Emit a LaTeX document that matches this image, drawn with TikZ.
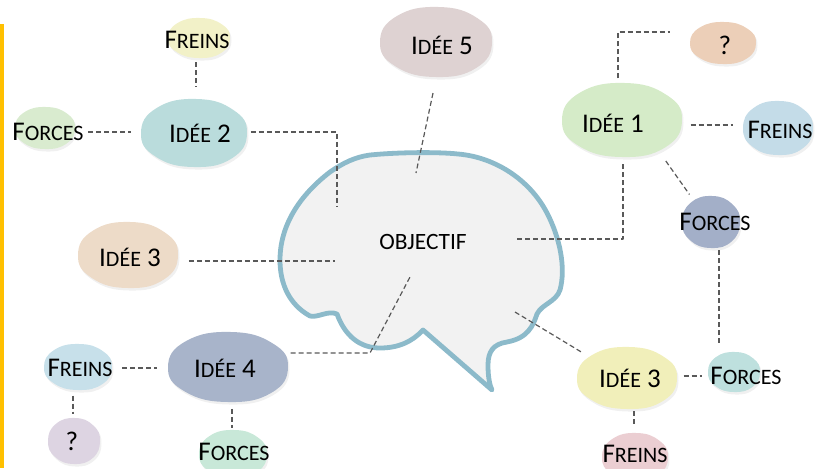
\documentclass[tikz,border=0pt]{standalone}
\usepackage{fontspec}
\setmainfont{Carlito}
\usetikzlibrary{calc}
\definecolor{barc}{HTML}{FFC000}
\definecolor{bubline}{HTML}{8CBACA}
\definecolor{bubfill}{HTML}{F2F2F2}
\newcommand\capsc[2]{{\fontsize{13.5}{15}\selectfont #1}{\fontsize{11}{13}\selectfont #2}}
\newcommand\cloudblob[5]{%
  \definecolor{blobtmp}{HTML}{#5}%
  \fill[black,opacity=.06,shift={(1.5,2.5)}] plot[smooth cycle,tension=.8] coordinates {
    ({#1+#3},{#2}) ({#1+.72*#3},{#2+.74*#4}) ({#1},{#2+#4}) ({#1-.72*#3},{#2+.7*#4})
    ({#1-#3},{#2}) ({#1-.7*#3},{#2-.74*#4}) ({#1+.05*#3},{#2-#4}) ({#1+.74*#3},{#2-.68*#4})};
  \fill[blobtmp] plot[smooth cycle,tension=.8] coordinates {
    ({#1+#3},{#2}) ({#1+.72*#3},{#2+.74*#4}) ({#1},{#2+#4}) ({#1-.72*#3},{#2+.7*#4})
    ({#1-#3},{#2}) ({#1-.7*#3},{#2-.74*#4}) ({#1+.05*#3},{#2-#4}) ({#1+.74*#3},{#2-.68*#4})};}
\begin{document}
\begin{tikzpicture}[x=0.5pt,y=-0.5pt,line join=round,line cap=round,
    lbl/.style={inner sep=0pt,font=\fontsize{13.5}{15}\selectfont},
    link/.style={draw=black!65,line width=0.6pt,dash pattern=on 2.5pt off 1.5pt,line cap=butt},
    bubble/.style={draw=bubline,fill=bubfill,line width=2.4pt}]
    \useasboundingbox (0,0) rectangle (827,468);
    \fill[barc] (0,24) rectangle (4.5,468);
    % blobs
    \cloudblob{199}{38}{31}{20}{F2F1C8}
    \cloudblob{194}{133}{53}{34}{BADCDC}
    \cloudblob{45}{128}{30}{21}{D9EBCF}
    \cloudblob{436}{42}{56}{35}{DED2D2}
    \cloudblob{128}{255}{50}{33}{EDDBC8}
    \cloudblob{228}{367}{60}{35}{A8B4CA}
    \cloudblob{78}{367}{34}{23}{C7E0EA}
    \cloudblob{74}{441}{26}{23}{DDD4E2}
    \cloudblob{233}{454}{34}{24}{C8E8D8}
    \cloudblob{723}{43}{33}{21}{ECCFB8}
    \cloudblob{622}{120}{60}{37}{D5EBC8}
    \cloudblob{778}{128}{35}{27}{C4DCE8}
    \cloudblob{711}{222}{29}{26}{A3AFC8}
    \cloudblob{734}{372}{26}{20}{BEE0DE}
    \cloudblob{627}{378}{50}{31}{F1EFBA}
    \cloudblob{635}{457}{33}{24}{EBCED2}
    % speech bubble
    \draw[bubble] (370,155) .. controls (400,152) and (440,152) .. (458,154)
        .. controls (495,157) and (530,180) .. (547,213)
        .. controls (560,238) and (566,268) .. (560,290)
        .. controls (556,302) and (542,304) .. (537,314)
        .. controls (533,326) and (528,338) .. (507,342)
        .. controls (493,344) and (488,352) .. (488,365)
        .. controls (488,378) and (490,386) .. (492,390)
        -- (423,330)
        .. controls (412,342) and (398,348) .. (380,348)
        .. controls (360,348) and (345,336) .. (337,314)
        .. controls (328,310) and (318,318) .. (310,316)
        .. controls (290,305) and (280,285) .. (280,260)
        .. controls (280,225) and (300,195) .. (330,172)
        .. controls (343,163) and (355,157) .. (370,155) -- cycle;
    % labels
    \node[lbl] (freinsTL) at (197,40) {\capsc{F}{REINS}};
    \node[lbl] (idee2) at (200,133) {\capsc{I}{DÉE} 2};
    \node[lbl] (forcesL) at (48,132) {\capsc{F}{ORCES}};
    \node[lbl] (idee5) at (442,45) {\capsc{I}{DÉE} 5};
    \node[lbl] (idee3L) at (130,257) {\capsc{I}{DÉE} 3};
    \node[lbl] (idee4) at (225,368) {\capsc{I}{DÉE} 4};
    \node[lbl] (freinsL) at (80,368) {\capsc{F}{REINS}};
    \node[lbl] (qL) at (72,441) {?};
    \node[lbl] (forcesB) at (234,452) {\capsc{F}{ORCES}};
    \node[lbl] (qR) at (725,45) {?};
    \node[lbl] (idee1) at (613,123) {\capsc{I}{DÉE} 1};
    \node[lbl] (freinsR) at (780,130) {\capsc{F}{REINS}};
    \node[lbl] (forcesR) at (715,222) {\capsc{F}{ORCES}};
    \node[lbl] (forcesR2) at (746,376) {\capsc{F}{ORCES}};
    \node[lbl] (idee3R) at (630,378) {\capsc{I}{DÉE} 3};
    \node[lbl] (freinsBR) at (635,454) {\capsc{F}{REINS}};
    \node[inner sep=0pt,font=\fontsize{11.7}{13}\selectfont] (obj) at (423,242) {OBJECTIF};
    % free ends inside the bubble
    \coordinate (c1) at (517,239);
    \coordinate (c2) at (337,207);
    \coordinate (c3) at (335,261);
    \coordinate (c4) at (410,277);
    \coordinate (k4) at (370,353);
    \coordinate (c5) at (416,173);
    \coordinate (c6) at (515,312);
    % links
    \draw[link] ([xshift=-.5pt,yshift=-6.6pt]freinsTL.south) -- ([xshift=-2pt,yshift=18.2pt]idee2.north);
    \draw[link] ([xshift=2.2pt]forcesL.east) -- ([xshift=-18.8pt,yshift=.5pt]idee2.west);
    \draw[link] ([xshift=9.8pt,yshift=.5pt]idee2.east) -| (c2);
    \draw[link] ([xshift=-4.5pt,yshift=-19.2pt]idee5.south) -- (c5);
    \draw[link] ([xshift=13.8pt,yshift=-2pt]idee3L.east) -- (c3);
    \draw[link] ([xshift=17.2pt,yshift=7.5pt]idee4.east) -- (k4) -- (c4);
    \draw[link] ([xshift=4.8pt]freinsL.east) -- ([xshift=-18.2pt]idee4.west);
    \draw[link] ([xshift=-3.5pt,yshift=-9.2pt]freinsL.south) -- ([xshift=.5pt,yshift=8.6pt]qL.north);
    \draw[link] ([xshift=3.5pt,yshift=-15.6pt]idee4.south) -- ([xshift=-1pt,yshift=7.6pt]forcesB.north);
    \draw[link] ([xshift=2.5pt,yshift=17.5pt]idee1.north) |- ([xshift=-24.4pt,yshift=6.5pt]qR.west);
    \draw[link] ([xshift=23.2pt,yshift=-1pt]idee1.east) -- ([xshift=-7.2pt,yshift=2.5pt]freinsR.west);
    \draw[link] ([xshift=10.8pt,yshift=-14.2pt]idee1.south east) -- ([xshift=5.2pt,yshift=9.2pt]forcesR.north west);
    \draw[link] (c1) -| ([xshift=5pt,yshift=-15.6pt]idee1.south);
    \draw[link] ([xshift=2pt,yshift=-9.6pt]forcesR.south) -- ([xshift=-13.5pt,yshift=11.2pt]forcesR2.north);
    \draw[link] ([xshift=11.2pt,yshift=1pt]idee3R.east) -- ([xshift=-3.8pt]forcesR2.west);
    \draw[link] (c6) -- ([xshift=-8.8pt,yshift=8.2pt]idee3R.north west);
    \draw[link] ([xshift=2pt,yshift=-11.7pt]idee3R.south) -- ([xshift=-.5pt,yshift=9.1pt]freinsBR.north);
\end{tikzpicture}
\end{document}
